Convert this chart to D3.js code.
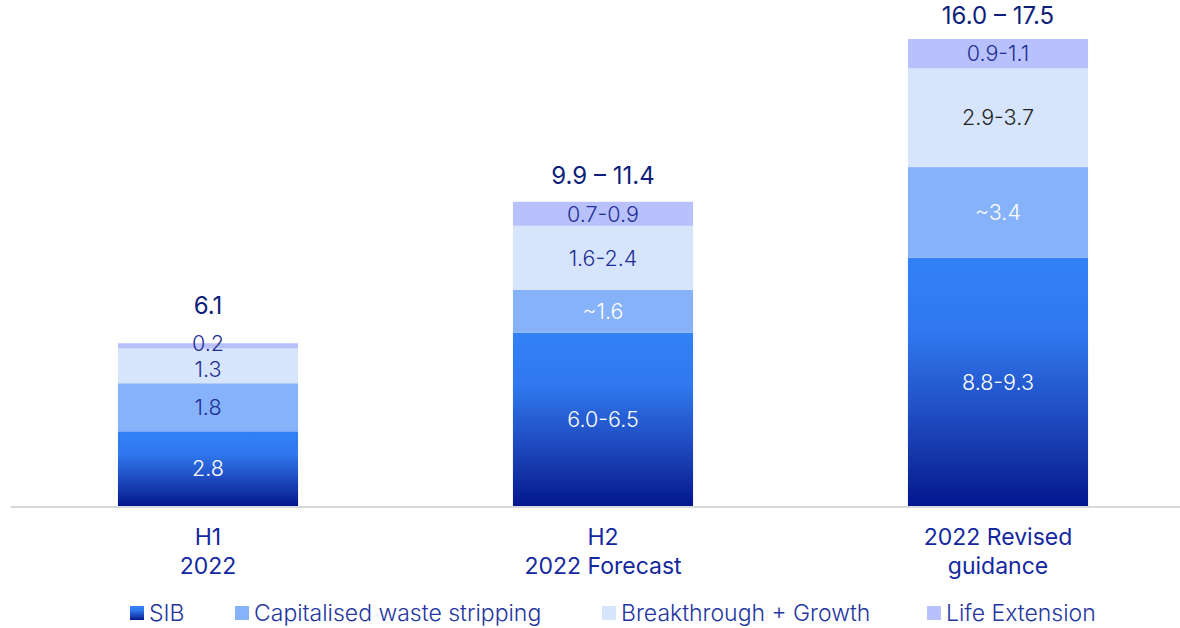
<!DOCTYPE html>
<html>
<head>
<meta charset="utf-8">
<script src="https://cdn.jsdelivr.net/npm/d3@7"></script>
<style>
  html, body { margin: 0; padding: 0; background: #fff; }
  svg { display: block; font-family: "Inter", "Lato", "Noto Sans", sans-serif; }
</style>
</head>
<body>
<svg id="chart" width="1180" height="628"></svg>
<script>
// Capital expenditure by category (upper end of each range, US$ bn)
const categories = ["H1|2022", "H2|2022 Forecast", "2022 Revised|guidance"];
const seriesNames = ["SIB", "Capitalised waste stripping", "Breakthrough + Growth", "Life Extension"];
const sib          = [2.8, 6.5, 9.3];
const wasteStrip   = [1.8, 1.6, 3.4];
const breakthrough = [1.3, 2.4, 3.7];
const lifeExt      = [0.2, 0.9, 1.1];
const segmentLabels = [
  ["2.8", "6.0-6.5", "8.8-9.3"],
  ["1.8", "~1.6", "~3.4"],
  ["1.3", "1.6-2.4", "2.9-3.7"],
  ["0.2", "0.7-0.9", "0.9-1.1"]
];
const totalLabels = ["6.1", "9.9 \u2013 11.4", "16.0 \u2013 17.5"];

const fills = ["url(#sibGrad)", "#86b2fa", "#d6e4fc", "#b9c1fd"];
const labelColors = [
  ["#ffffff", "#ffffff", "#ffffff"],
  ["#1f2f95", "#ffffff", "#ffffff"],
  ["#1f2f95", "#1f2f95", "#222222"],
  ["#1f2f95", "#1f2f95", "#1f2f95"]
];

const svg = d3.select("#chart");
const defs = svg.append("defs");
const grad = defs.append("linearGradient")
  .attr("id", "sibGrad").attr("x1", 0).attr("y1", 0).attr("x2", 0).attr("y2", 1);
[[0, "#3381f6"], [0.3, "#3078ee"], [0.6, "#2150c6"], [0.85, "#102ea0"], [1, "#031690"]]
  .forEach(([o, c]) => grad.append("stop").attr("offset", o).attr("stop-color", c));

const rows = categories.map((c, i) => ({
  cat: c, i,
  s0: sib[i], s1: wasteStrip[i], s2: breakthrough[i], s3: lifeExt[i]
}));
const stack = d3.stack().keys(["s0", "s1", "s2", "s3"]);
const layers = stack(rows);

const x = d3.scaleBand().domain(categories).range([10.5, 1195.5])
  .paddingInner(0.544).paddingOuter(0.272);
const y = d3.scaleLinear().domain([0, 17.5]).range([506, 39]);
const cx = c => x(c) + x.bandwidth() / 2;

// baseline
svg.append("line")
  .attr("x1", 11).attr("x2", 1180).attr("y1", y(0) + 1).attr("y2", y(0) + 1)
  .attr("stroke", "#d9d9d9").attr("stroke-width", 2);

// stacked bars
const g = svg.append("g");
layers.forEach((layer, k) => {
  g.selectAll(null).data(layer).enter().append("rect")
    .attr("x", d => x(d.data.cat))
    .attr("width", x.bandwidth())
    .attr("y", d => y(d[1]))
    .attr("height", d => y(d[0]) - y(d[1]))
    .attr("fill", fills[k]);
});

// segment label positions: centred in each segment, then pulled apart
// where a thin segment would make two labels collide
const minGap = 26;
const labelPos = categories.map((c, i) => {
  const ys = layers.map(l => (y(l[i][0]) + y(l[i][1])) / 2);
  for (let k = 1; k < ys.length; k++) {
    const gap = ys[k - 1] - ys[k];
    if (gap < minGap) {
      const shift = (minGap - gap) / 2;
      ys[k - 1] += shift;
      ys[k] -= shift;
    }
  }
  return ys;
});

layers.forEach((layer, k) => {
  g.selectAll(null).data(layer).enter().append("text")
    .attr("x", d => cx(d.data.cat))
    .attr("y", d => labelPos[d.data.i][k])
    .attr("dy", "0.36em")
    .attr("text-anchor", "middle")
    .attr("font-size", 21.5)
    .attr("font-weight", 300)
    .attr("fill", d => labelColors[k][d.data.i])
    .text(d => segmentLabels[k][d.data.i]);
});

// totals above bars, kept clear of the topmost segment label
const topLayer = layers[layers.length - 1];
g.selectAll(null).data(topLayer).enter().append("text")
  .attr("x", d => cx(d.data.cat))
  .attr("y", d => Math.min(y(d[1]) - 22, labelPos[d.data.i][layers.length - 1] - 38))
  .attr("dy", "0.36em")
  .attr("text-anchor", "middle")
  .attr("font-size", 24)
  .attr("font-weight", 400)
  .attr("fill", "#0d1f7a")
  .text(d => totalLabels[d.data.i]);

// category axis labels
const xAxis = svg.append("g");
categories.forEach(c => {
  const t = xAxis.append("text")
    .attr("x", cx(c))
    .attr("y", 537)
    .attr("text-anchor", "middle")
    .attr("font-size", 23)
    .attr("fill", "#1428a0");
  c.split("|").forEach((line, j) => {
    t.append("tspan").attr("x", cx(c))
      .attr("dy", j === 0 ? "0.36em" : 29).text(line);
  });
});

// legend
const legendX = [130, 235, 602, 927];
const legend = svg.append("g");
seriesNames.forEach((name, k) => {
  legend.append("rect")
    .attr("x", legendX[k]).attr("y", 606).attr("width", 14).attr("height", 14)
    .attr("fill", fills[k]);
  legend.append("text")
    .attr("x", legendX[k] + 19).attr("y", 613).attr("dy", "0.36em")
    .attr("font-size", 23)
    .attr("font-weight", 300)
    .attr("fill", "#2536a0")
    .text(name);
});
</script>
</body>
</html>
